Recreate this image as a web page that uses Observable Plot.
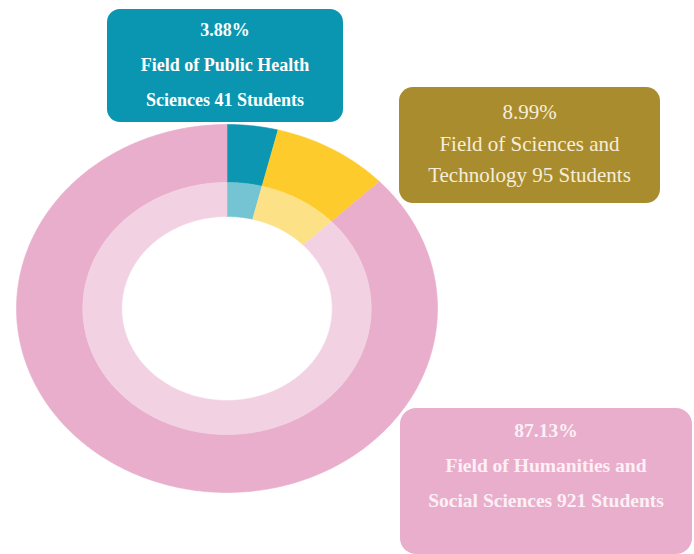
<!DOCTYPE html>
<html>
<head>
<meta charset="utf-8">
<script src="https://cdn.jsdelivr.net/npm/d3@7"></script>
<script src="https://cdn.jsdelivr.net/npm/@observablehq/plot@0.6"></script>
<style>
  html, body { margin: 0; padding: 0; background: #fff; }
  #wrap { position: relative; width: 694px; height: 554px; overflow: hidden; }
  .box { position: absolute; box-sizing: border-box; text-align: center; white-space: nowrap; }
  .b1 { left: 107px; top: 9px; width: 236px; height: 113px; border-radius: 13px; background: #0a96b0; color: #ffffff;
        font: bold 18px "Liberation Serif", serif; line-height: 35px; padding-top: 4px; }
  .b2 { left: 399px; top: 87px; width: 261px; height: 116px; border-radius: 14px; background: #a98c2e; color: #f6eed8;
        font: 21px "Liberation Serif", serif; line-height: 31.5px; padding-top: 10px; }
  .b3 { left: 400px; top: 408px; width: 292px; height: 146px; border-radius: 16px; background: #e9aecb; color: #fcf0f6;
        font: bold 19.5px "Liberation Serif", serif; line-height: 35px; padding-top: 5px; }
</style>
</head>
<body>
<div id="wrap"></div>
<script>
// Data
const fields = ["Field of Public Health Sciences", "Field of Sciences and Technology", "Field of Humanities and Social Sciences"];
const students = [41, 95, 921];
const percents = ["3.88%", "8.99%", "87.13%"];
const labelLines = [
  ["3.88%", "Field of Public Health", "Sciences 41 Students"],
  ["8.99%", "Field of Sciences and", "Technology 95 Students"],
  ["87.13%", "Field of Humanities and", "Social Sciences 921 Students"]
];
const outerColors = ["#0c96b1", "#fdcb2b", "#e8aecb"];
const innerColors = ["#74c4d3", "#fde186", "#f2d2e2"];

// Ring radii (relative units)
const R_OUT = 1, R_MID = 0.685, R_IN = 0.5;

const total = d3.sum(students);
const pie = d3.pie().sort(null).value(d => d)(students);

function wedge(i, r0, r1) {
  const a0 = pie[i].startAngle, a1 = pie[i].endAngle;
  const n = Math.max(2, Math.ceil((a1 - a0) / (Math.PI / 360)));
  const pts = [];
  for (let k = 0; k <= n; k++) {
    const a = a0 + (a1 - a0) * k / n;
    pts.push({x: r1 * Math.sin(a), y: r1 * Math.cos(a)});
  }
  for (let k = n; k >= 0; k--) {
    const a = a0 + (a1 - a0) * k / n;
    pts.push({x: r0 * Math.sin(a), y: r0 * Math.cos(a)});
  }
  return pts;
}

const marks = [];
fields.forEach((f, i) => {
  marks.push(Plot.line(wedge(i, R_MID, R_OUT), {x: "x", y: "y", fill: outerColors[i], stroke: outerColors[i], strokeWidth: 0.6}));
  marks.push(Plot.line(wedge(i, R_IN, R_MID), {x: "x", y: "y", fill: innerColors[i], stroke: innerColors[i], strokeWidth: 0.6}));
});

const chart = Plot.plot({
  width: 694,
  height: 554,
  margin: 0,
  x: {domain: [-1, 1], range: [16, 437], axis: null},
  y: {domain: [-1, 1], range: [492, 124], axis: null},
  marks
});

const wrap = document.getElementById("wrap");
wrap.appendChild(chart);

["b1", "b2", "b3"].forEach((cls, i) => {
  const div = document.createElement("div");
  div.className = "box " + cls;
  div.innerHTML = labelLines[i].map(t => `<div>${t}</div>`).join("");
  wrap.appendChild(div);
});
</script>
</body>
</html>
